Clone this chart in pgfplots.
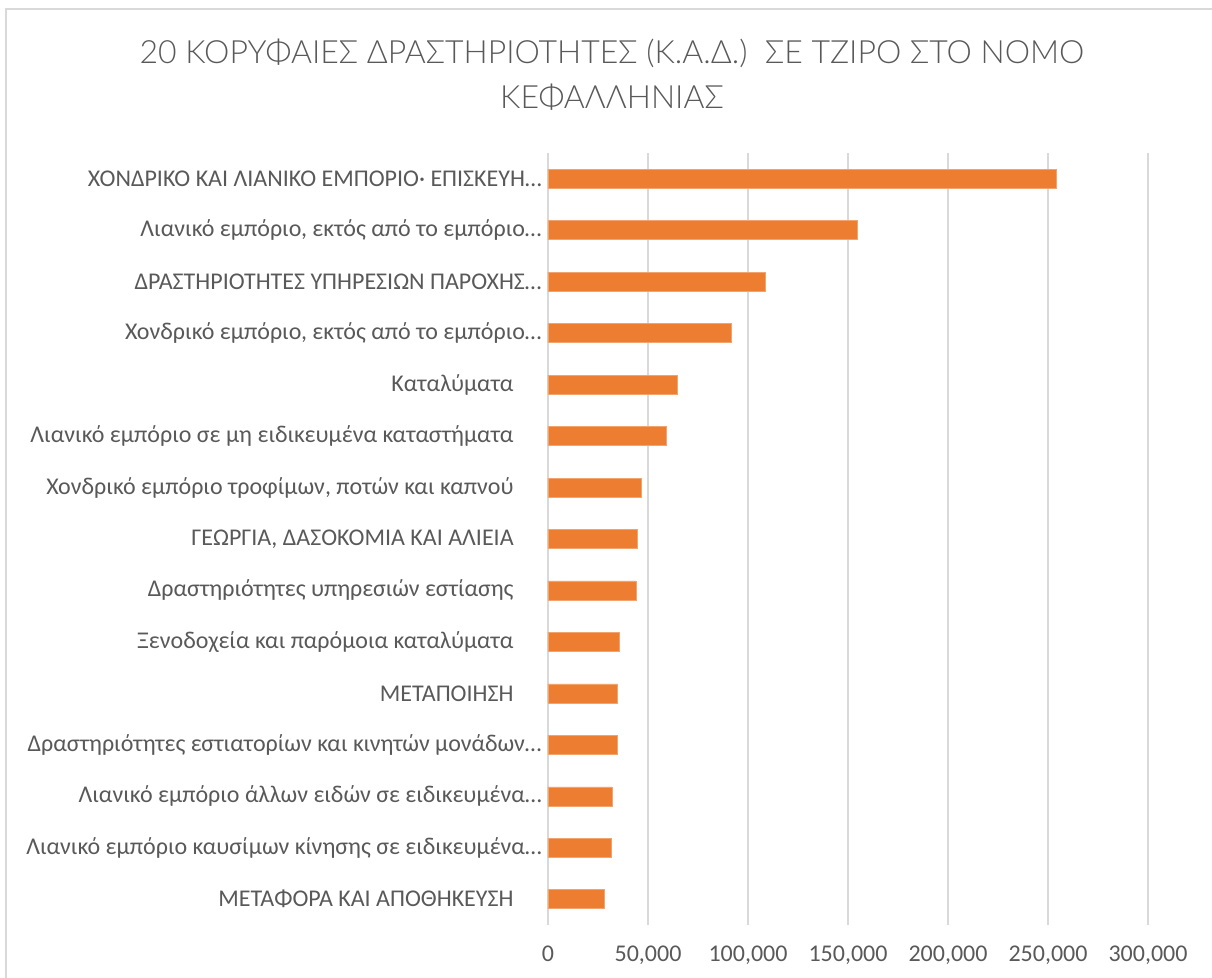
\documentclass[border=0pt]{standalone}
\usepackage{fontspec}
\setmainfont{Carlito}
\newfontfamily\titlefont{Lato}[UprightFont=* Light]
\usepackage{pgfplots}
\pgfplotsset{compat=1.18}
\definecolor{txtgray}{HTML}{595959}
\definecolor{titlegray}{HTML}{595959}
\definecolor{gridgray}{HTML}{D9D9D9}
\definecolor{barorange}{HTML}{ED7D31}
\newcommand{\pad}{\rule{14pt}{0pt}}
\begin{document}
\begin{tikzpicture}
\useasboundingbox (-274pt,-26.5pt) rectangle (332pt,462.5pt);
\draw[gridgray, line width=1pt] (-271pt,-40pt) -- (-271pt,457.75pt) -- (345pt,457.75pt);
\begin{axis}[
  at={(0pt,0pt)}, anchor=south west,
  scale only axis, width=300pt, height=386pt,
  xbar, bar width=9.5pt,
  xmin=0, xmax=300000, ymin=-0.5, ymax=14.5,
  axis line style={draw=none},
  major tick length=0pt,
  xmajorgrids, grid style={gridgray, line width=1pt},
  xtick={0,50000,100000,150000,200000,250000,300000},
  xticklabels={0,{50,000},{100,000},{150,000},{200,000},{250,000},{300,000}},
  xticklabel style={font=\fontsize{12}{14}\selectfont, text=txtgray, anchor=base, inner sep=0pt, yshift=-18.5pt},
  ytick={0,...,14},
  yticklabels={
    {ΜΕΤΑΦΟΡΑ ΚΑΙ ΑΠΟΘΗΚΕΥΣΗ\pad},
    {Λιανικό εμπόριο καυσίμων κίνησης σε ειδικευμένα…},
    {Λιανικό εμπόριο άλλων ειδών σε ειδικευμένα…},
    {Δραστηριότητες εστιατορίων και κινητών μονάδων…},
    {ΜΕΤΑΠΟΙΗΣΗ\pad},
    {Ξενοδοχεία και παρόμοια καταλύματα\pad},
    {Δραστηριότητες υπηρεσιών εστίασης\pad},
    {ΓΕΩΡΓΙΑ, ΔΑΣΟΚΟΜΙΑ ΚΑΙ ΑΛΙΕΙΑ\pad},
    {Χονδρικό εμπόριο τροφίμων, ποτών και καπνού\pad},
    {Λιανικό εμπόριο σε μη ειδικευμένα καταστήματα\pad},
    {Καταλύματα\pad},
    {Χονδρικό εμπόριο, εκτός από το εμπόριο…},
    {ΔΡΑΣΤΗΡΙΟΤΗΤΕΣ ΥΠΗΡΕΣΙΩΝ ΠΑΡΟΧΗΣ…},
    {Λιανικό εμπόριο, εκτός από το εμπόριο…},
    {ΧΟΝΔΡΙΚΟ ΚΑΙ ΛΙΑΝΙΚΟ ΕΜΠΟΡΙΟ· ΕΠΙΣΚΕΥΗ…}
  },
  yticklabel style={font=\fontsize{12}{14}\selectfont, text=txtgray, anchor=east, inner sep=0pt, xshift=-3pt},
]
\addplot[fill=barorange, draw=barorange!70!white, line width=0.3pt] coordinates {
  (28300,0) (31800,1) (32000,2) (34500,3) (34800,4) (35800,5) (44000,6)
  (44700,7) (46800,8) (59000,9) (64500,10) (91800,11) (108500,12)
  (154700,13) (254000,14)
};
\end{axis}
\node[anchor=base, text=titlegray, font=\titlefont\fontsize{16}{20}\selectfont, inner sep=0pt] at (32pt,430.5pt) {20 ΚΟΡΥΦΑΙΕΣ ΔΡΑΣΤΗΡΙΟΤΗΤΕΣ (Κ.Α.Δ.)\ \ ΣΕ ΤΖΙΡΟ ΣΤΟ ΝΟΜΟ};
\node[anchor=base, text=titlegray, font=\titlefont\fontsize{16}{20}\selectfont, inner sep=0pt] at (32pt,408pt) {ΚΕΦΑΛΛΗΝΙΑΣ};
\end{tikzpicture}
\end{document}
